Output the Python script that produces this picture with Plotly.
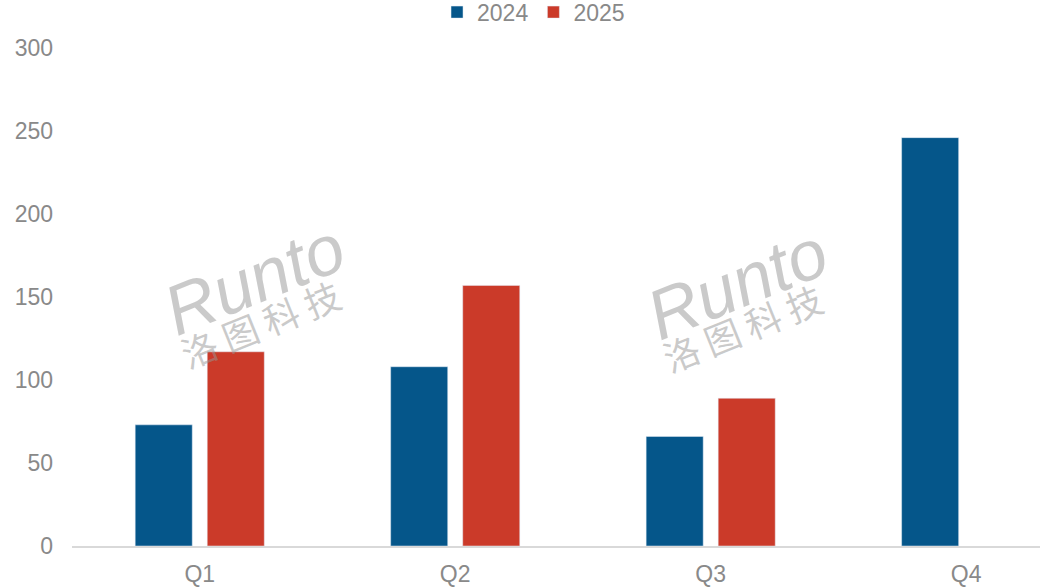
import plotly.graph_objects as go

categories = ["Q1", "Q2", "Q3", "Q4"]
values_2024 = [73, 108, 66, 246]
values_2025 = [117, 157, 89, None]
y_ticks = [0, 50, 100, 150, 200, 250, 300]

BLUE = "#05568A"
RED = "#CB3A29"
GRAY = "#898989"
FONT = "Liberation Sans, Arial, sans-serif"
WM = "rgba(150,150,150,0.5)"

fig = go.Figure()
fig.add_trace(go.Bar(name="2024", x=categories, y=values_2024, marker_color=BLUE))
fig.add_trace(go.Bar(name="2025", x=categories, y=values_2025, marker_color=RED))

# watermarks
for (rx, ry), (cx, cy) in [((0.189, 0.536), (0.194, 0.448)), ((0.687, 0.526), (0.692, 0.440))]:
    fig.add_annotation(xref="paper", yref="paper", x=rx, y=ry, xanchor="center", yanchor="middle",
                       text="<i>Runto</i>", showarrow=False, textangle=-22,
                       font=dict(family=FONT, size=70, color=WM))
    fig.add_annotation(xref="paper", yref="paper", x=cx, y=cy, xanchor="center", yanchor="middle",
                       text="洛 图 科 技", showarrow=False, textangle=-22,
                       font=dict(family="Noto Sans CJK SC", size=36, color=WM))

fig.update_layout(
    width=1040, height=588,
    margin=dict(l=72, r=0, t=48, b=42, autoexpand=False),
    paper_bgcolor="white", plot_bgcolor="white",
    barmode="group", bargap=0.436, bargroupgap=0.208,
    font=dict(family=FONT, size=23, color=GRAY),
    showlegend=True,
    legend=dict(orientation="h", x=0.513, xanchor="center", xref="container",
                y=1.072, yref="paper", yanchor="middle",
                font=dict(size=23, color=GRAY), traceorder="normal",
                itemwidth=30),
    xaxis=dict(range=[-0.5, 3.289], showgrid=False, showline=True, linecolor="#d9d9d9",
               linewidth=2, ticks="", automargin=False, ticklabelstandoff=6,
               tickfont=dict(size=23, color=GRAY)),
    yaxis=dict(range=[0, 300], tickvals=y_ticks, showgrid=False, zeroline=False,
               showline=False, ticks="", automargin=False, ticklabelstandoff=18,
               tickfont=dict(size=23, color=GRAY)),
)

fig.write_html("out.html", config={"displayModeBar": False},
               post_script="document.body.style.margin='0';document.body.style.overflow='hidden';")
